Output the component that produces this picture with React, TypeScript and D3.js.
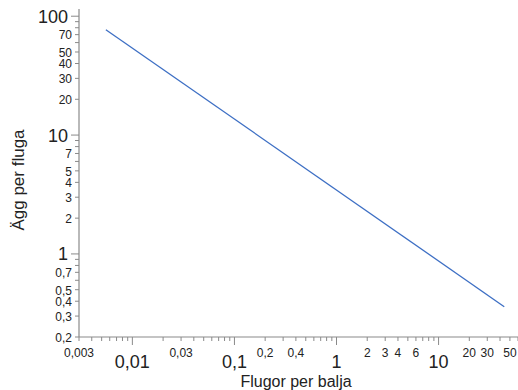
import { useEffect, useRef } from 'react';
import * as d3 from 'd3';

// line endpoints (log-log)
const flies = [0.0055, 44];
const eggs = [77, 0.36];

const xMajor = [0.01, 0.1, 1, 10];
const xMinorLabels = [0.003, 0.03, 0.2, 0.4, 2, 3, 4, 6, 20, 30, 50];
const yMajor = [1, 10, 100];
const yMinorLabels = [0.2, 0.3, 0.4, 0.5, 0.7, 2, 3, 4, 5, 7, 20, 30, 40, 50, 70];

const fmt = (v: number) => String(v).replace('.', ',');

const App = () => {
  const svgRef = useRef<SVGSVGElement>(null);

  useEffect(() => {
    const width = 518;
    const height = 390;
    const svg = d3.select(svgRef.current);
    svg.selectAll('*').remove();
    svg.attr('width', width).attr('height', height);

    const font = 'Liberation Sans, Arial, Helvetica, sans-serif';
    const axisColor = '#8a8a8a';
    const textColor = '#222';

    const x = d3.scaleLog().domain([0.003, 60]).range([79, 518]);
    const y = d3.scaleLog().domain([0.2, 115]).range([337, 9]);

    // all minor tick positions (1..9 per decade)
    const xAll: number[] = [];
    for (let e = -3; e <= 1; e++) {
      for (let m = 1; m <= 9; m++) {
        const v = +(m * Math.pow(10, e)).toPrecision(3);
        if (v >= 0.003 && v <= 60) xAll.push(v);
      }
    }
    const yAll: number[] = [];
    for (let e = -1; e <= 2; e++) {
      for (let m = 1; m <= 9; m++) {
        const v = +(m * Math.pow(10, e)).toPrecision(3);
        if (v >= 0.2 && v <= 100) yAll.push(v);
      }
    }

    // ==========================================
    // X AXIS
    // ==========================================
    const gx = svg.append('g');
    gx.append('line')
      .attr('x1', x.range()[0]).attr('x2', x.range()[1])
      .attr('y1', 337).attr('y2', 337)
      .attr('stroke', axisColor).attr('stroke-width', 1.2);

    gx.selectAll('line.tick')
      .data(xAll)
      .enter()
      .append('line')
      .attr('class', 'tick')
      .attr('x1', d => x(d)).attr('x2', d => x(d))
      .attr('y1', 337)
      .attr('y2', d => (xMajor.includes(d) ? 345 : 341))
      .attr('stroke', axisColor).attr('stroke-width', 1);

    gx.selectAll('text.major')
      .data(xMajor)
      .enter()
      .append('text')
      .attr('x', d => x(d))
      .attr('y', 368)
      .attr('text-anchor', 'middle')
      .style('font-family', font)
      .style('font-size', '18px')
      .style('fill', textColor)
      .text(d => fmt(d));

    gx.selectAll('text.minor')
      .data(xMinorLabels)
      .enter()
      .append('text')
      .attr('x', d => x(d))
      .attr('y', 357)
      .attr('text-anchor', 'middle')
      .style('font-family', font)
      .style('font-size', '12px')
      .style('fill', textColor)
      .text(d => fmt(d));

    // ==========================================
    // Y AXIS
    // ==========================================
    const gy = svg.append('g');
    gy.append('line')
      .attr('x1', 79).attr('x2', 79)
      .attr('y1', y.range()[0]).attr('y2', y.range()[1])
      .attr('stroke', axisColor).attr('stroke-width', 1.2);

    gy.selectAll('line.tick')
      .data(yAll)
      .enter()
      .append('line')
      .attr('x1', d => (yMajor.includes(d) ? 71 : 75))
      .attr('x2', 79)
      .attr('y1', d => y(d)).attr('y2', d => y(d))
      .attr('stroke', axisColor).attr('stroke-width', 1);

    gy.selectAll('text.major')
      .data(yMajor)
      .enter()
      .append('text')
      .attr('x', 68)
      .attr('y', d => y(d))
      .attr('dy', '0.36em')
      .attr('text-anchor', 'end')
      .style('font-family', font)
      .style('font-size', '18px')
      .style('fill', textColor)
      .text(d => fmt(d));

    gy.selectAll('text.minor')
      .data(yMinorLabels)
      .enter()
      .append('text')
      .attr('x', 72)
      .attr('y', d => y(d))
      .attr('dy', '0.4em')
      .attr('text-anchor', 'end')
      .style('font-family', font)
      .style('font-size', '12px')
      .style('fill', textColor)
      .text(d => fmt(d));

    // ==========================================
    // AXIS LABELS
    // ==========================================
    svg.append('text')
      .attr('x', 296)
      .attr('y', 387)
      .attr('text-anchor', 'middle')
      .style('font-family', font)
      .style('font-size', '16px')
      .style('fill', textColor)
      .text('Flugor per balja');

    svg.append('text')
      .attr('transform', 'translate(24,180) rotate(-90)')
      .attr('text-anchor', 'middle')
      .style('font-family', font)
      .style('font-size', '17px')
      .style('fill', textColor)
      .text('Ägg per fluga');

    // ==========================================
    // LINE
    // ==========================================
    const line = d3.line<number>()
      .x((_, i) => x(flies[i]))
      .y(d => y(d));

    svg.append('path')
      .datum(eggs)
      .attr('d', line)
      .attr('fill', 'none')
      .attr('stroke', '#3d6fc4')
      .attr('stroke-width', 1.3);
  }, []);

  return (
    <svg
      ref={svgRef}
      style={{ position: 'absolute', left: 0, top: 0, background: '#fff' }}
    ></svg>
  );
};

export default App;
